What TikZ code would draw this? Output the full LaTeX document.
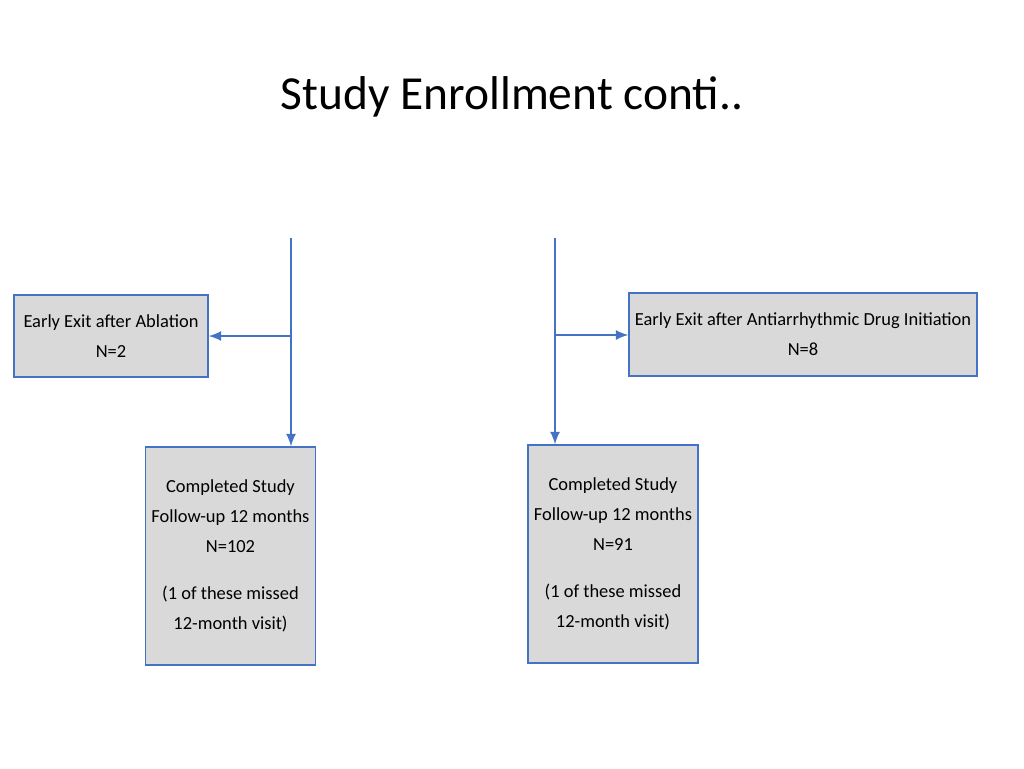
\documentclass[tikz,border=0pt]{standalone}
\usepackage{fontspec}
\setmainfont{Carlito}
\usetikzlibrary{arrows.meta,positioning}
\definecolor{flowblue}{RGB}{68,114,196}
\definecolor{boxgray}{RGB}{217,217,217}
\tikzset{%
  >={Latex[width=2mm,length=2.5mm]},
  % Specifications for style of nodes:
  base/.style = {rectangle, draw=flowblue, fill=boxgray, line width=0.8pt,
    text centered, align=center, font=\fontsize{10.5}{13}\selectfont},
  flow/.style = {->, draw=flowblue, line width=0.9pt},
}
\begin{document}
\begin{tikzpicture}[x=0.02cm,y=-0.02cm]
  \useasboundingbox (0,0) rectangle (1024,768);
  \node(Title) at (512,97) {\fontsize{27}{32}\selectfont Study Enrollment conti..};
  % Specification of nodes (position, etc.)
  \node(ExitA)[base,minimum width=194*0.02cm,minimum height=82*0.02cm] at (111,336)
    {Early Exit after Ablation\\[4pt] N=2};
  \node(DoneA)[base,minimum width=169*0.02cm,minimum height=218*0.02cm] at (230.5,556)
    {Completed Study\\[4pt] Follow-up 12 months\\[4pt] N=102\\[14pt] (1 of these missed\\[4pt] 12-month visit)};
  \node(ExitB)[base,minimum width=322*0.02cm,minimum height=83*0.02cm] at (803,334.5)
    {Early Exit after Antiarrhythmic Drug Initiation\\[4pt] N=8};
  \node(DoneB)[base,minimum width=164*0.02cm,minimum height=218*0.02cm] at (613,554)
    {Completed Study\\[4pt] Follow-up 12 months\\[4pt] N=91\\[14pt] (1 of these missed\\[4pt] 12-month visit)};
  \coordinate(TopA) at (291,238);
  \coordinate(MidA) at (291,336);
  \coordinate(TopB) at (555,238);
  \coordinate(MidB) at (555,335);
  \draw[flow](TopA) -- (TopA |- DoneA.north);
  \draw[flow](MidA) -- (ExitA.east);
  \draw[flow](TopB) -- (TopB |- DoneB.north);
  \draw[flow](MidB) -- (MidB -| ExitB.west);
\end{tikzpicture}
\end{document}
